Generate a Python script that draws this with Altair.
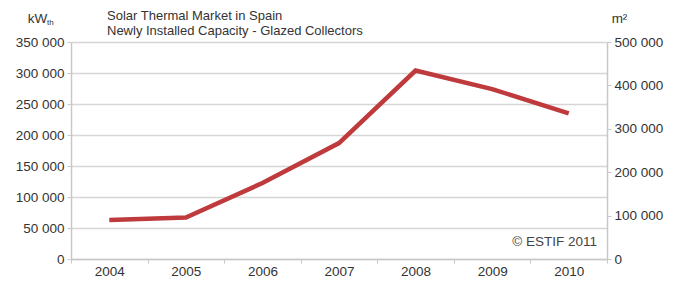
import altair as alt
import pandas as pd

years = ["2004", "2005", "2006", "2007", "2008", "2009", "2010"]
capacity_kw = [63000, 67000, 122500, 187000, 304000, 274000, 235000]
area_m2 = [90000, 96000, 175000, 267000, 434000, 391000, 336000]

title_lines = ["Solar Thermal Market in Spain", "Newly Installed Capacity - Glazed Collectors"]
left_unit = "kW"
left_unit_sub = "th"
right_unit = "m²"
credit = "© ESTIF 2011"

df = pd.DataFrame({"year": years, "kw": capacity_kw, "m2": area_m2})

FONT = "Liberation Sans"
GRAY = "#c8c8c8"
TXT = "#333333"
FS = 13.5

x_enc = alt.X(
    "year:O",
    scale=alt.Scale(type="band", paddingInner=0, paddingOuter=0),
    bandPosition=0.5,
    axis=alt.Axis(
        title=None, labelAngle=0, tickBand="extent", tickSize=4, tickColor=GRAY,
        domainColor=GRAY, domainWidth=1.5, labelFont=FONT, labelFontSize=FS,
        labelColor=TXT, labelPadding=1, grid=False,
    ),
)

lbl = "replace(format(datum.value, ','), ',', ' ')"

base = alt.Chart(df)

line = base.mark_line(color="#bf3a3d", strokeWidth=4.5, strokeJoin="miter").encode(
    x=x_enc,
    y=alt.Y(
        "kw:Q",
        scale=alt.Scale(domain=[0, 350000], nice=False),
        axis=alt.Axis(
            title=left_unit, titleAngle=0, titleX=-34, titleY=-24, titleAlign="center",
            titleBaseline="middle", titleFont=FONT, titleFontSize=FS, titleFontWeight="normal",
            titleColor=TXT,
            values=[0, 50000, 100000, 150000, 200000, 250000, 300000, 350000],
            labelExpr=lbl, labelFont=FONT, labelFontSize=FS, labelColor=TXT,
            tickSize=4, tickColor=GRAY, labelPadding=3,
            domainColor=GRAY, domainWidth=1.5, grid=True, gridColor="#d6d6d6", gridWidth=1.5,
        ),
    ),
)

right = base.mark_line(opacity=0).encode(
    x=x_enc,
    y=alt.Y(
        "m2:Q",
        scale=alt.Scale(domain=[0, 500000], nice=False),
        axis=alt.Axis(
            orient="right", title=right_unit, titleAngle=0, titleX=12, titleY=-24,
            titleAlign="center", titleBaseline="middle", titleFont=FONT, titleFontSize=FS,
            titleFontWeight="normal", titleColor=TXT,
            values=[0, 100000, 200000, 300000, 400000, 500000],
            labelExpr=lbl, labelFont=FONT, labelFontSize=FS, labelColor=TXT,
            tickSize=4, tickColor=GRAY, labelPadding=3,
            domainColor=GRAY, domainWidth=1.5, grid=False,
        ),
    ),
)

sub = alt.Chart(pd.DataFrame({"t": [left_unit_sub]})).mark_text(
    font=FONT, fontSize=8, color=TXT, align="left", baseline="middle"
).encode(text="t:N", x=alt.value(-24), y=alt.value(-19))

t1 = alt.Chart(pd.DataFrame({"t": [title_lines[0]]})).mark_text(
    font=FONT, fontSize=13, color=TXT, align="left", baseline="middle"
).encode(text="t:N", x=alt.value(36), y=alt.value(-26))

t2 = alt.Chart(pd.DataFrame({"t": [title_lines[1]]})).mark_text(
    font=FONT, fontSize=13, color=TXT, align="left", baseline="middle"
).encode(text="t:N", x=alt.value(36), y=alt.value(-11))

cred = alt.Chart(pd.DataFrame({"t": [credit]})).mark_text(
    font=FONT, fontSize=FS, color="#444444", align="right", baseline="middle"
).encode(text="t:N", x=alt.value(526), y=alt.value(200))

chart = alt.layer(line, right, sub, t1, t2, cred).resolve_scale(y="independent").properties(
    width=536,
    height=217,
    autosize=alt.AutoSizeParams(type="none"),
    padding={"left": 63, "top": 34, "right": 63, "bottom": 19},
).configure_view(stroke=None)

chart.save("out.html", embed_options={"renderer": "svg", "actions": False})
